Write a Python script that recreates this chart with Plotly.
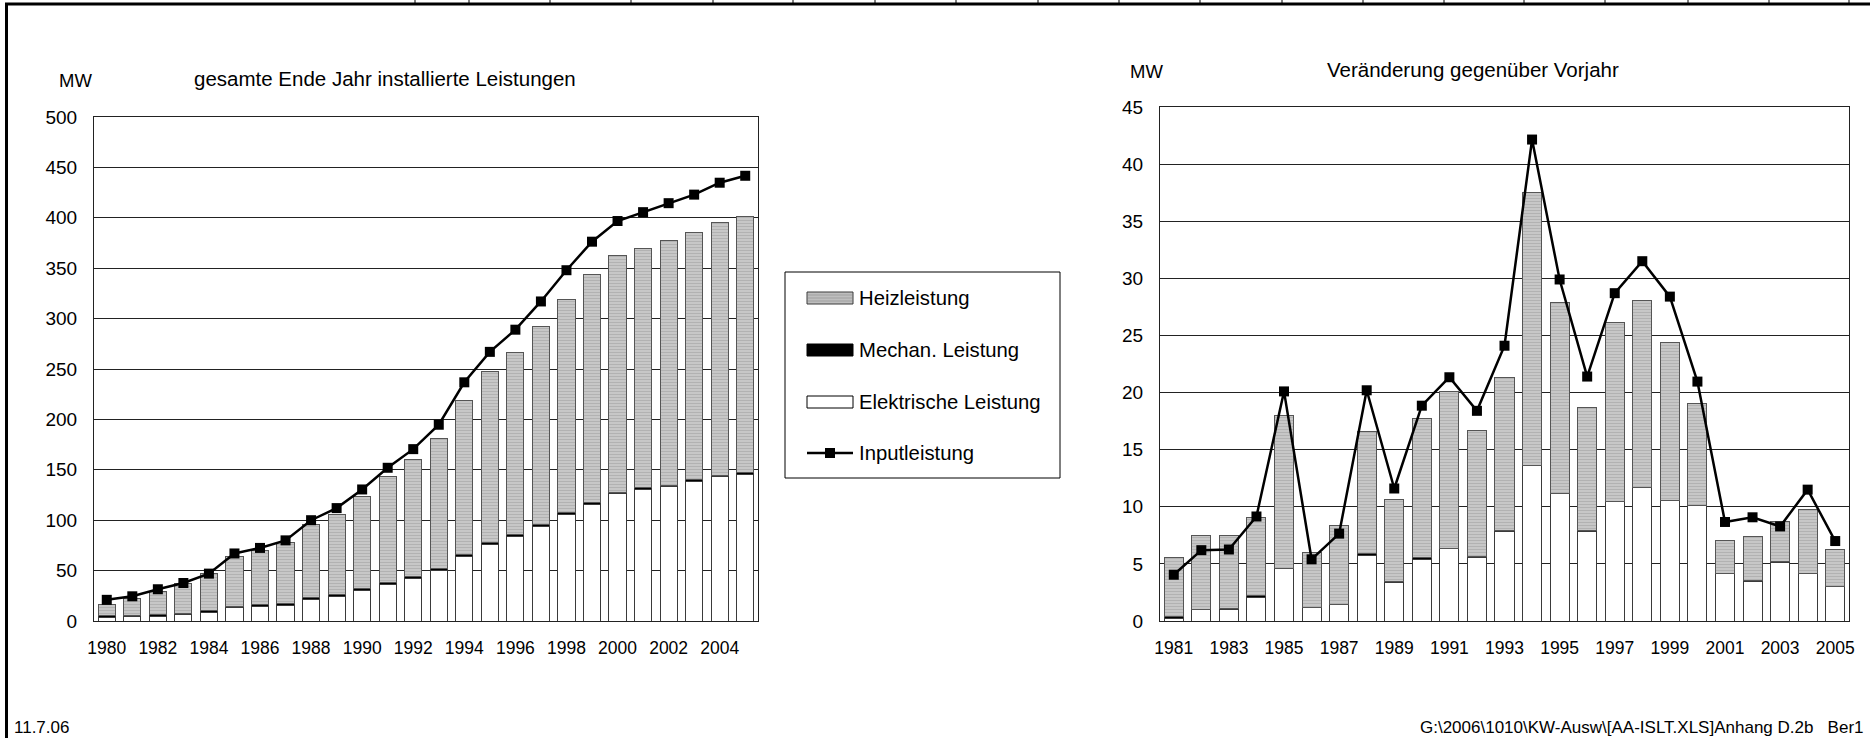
import plotly.graph_objects as go

W, H = 1870, 738

# --- cumulative installed capacity at year end (MW) ---
years_total = [str(y) for y in range(1980, 2006)]
elek_total = [3.3, 4.0, 4.6, 6.0, 8.3, 13.0, 14.6, 15.6, 21.0, 24.5, 30.5, 36.4, 42.4,
              50.3, 64.0, 75.5, 83.8, 94.0, 106.0, 116.0, 126.0, 130.5, 133.5, 138.7,
              143.0, 145.7]
mech_total = [1.8, 1.8, 1.8, 1.7, 1.8, 1.8, 1.8, 1.9, 2.0, 1.9, 2.0, 2.1, 1.9,
              2.0, 1.9, 2.0, 1.9, 1.7, 1.6, 1.8, 1.7, 1.5, 1.4, 1.6, 1.6, 1.6]
heiz_total = [11.4, 16.2, 23.1, 29.3, 36.6, 49.2, 53.6, 60.5, 72.4, 79.6, 91.5, 105.2,
              116.3, 129.2, 153.1, 170.2, 180.7, 196.3, 211.8, 225.9, 234.8, 237.4,
              242.1, 244.7, 250.4, 254.3]
input_total = [21.0, 24.5, 31.5, 37.7, 47.0, 67.0, 72.5, 80.0, 100.0, 112.0, 130.5,
               152.0, 170.5, 194.7, 236.8, 267.0, 289.0, 317.0, 348.0, 376.3, 396.8,
               405.6, 414.5, 423.0, 434.8, 441.7]
ticks_total = [str(y) for y in range(1980, 2006, 2)]

# --- change versus previous year (MW) ---
years_delta = [str(y) for y in range(1981, 2006)]
elek_delta = [0.26, 1.0, 1.05, 2.05, 4.6, 1.15, 1.43, 5.7, 3.37, 5.42, 6.32, 5.56, 7.87,
              13.6, 11.15, 7.85, 10.45, 11.68, 10.54, 10.1, 4.13, 3.48, 5.15, 4.13, 3.0]
mech_delta = [0.15, 0.05, 0.05, 0.15, 0.0, 0.05, 0.05, 0.2, 0.08, 0.18, 0.05, 0.05, 0.03,
              0.05, 0.05, 0.05, 0.05, 0.04, 0.05, 0.05, 0.05, 0.05, 0.05, 0.05, 0.05]
heiz_delta = [5.19, 6.45, 6.4, 6.85, 13.35, 4.77, 6.87, 10.67, 7.15, 12.1, 13.71, 11.04,
              13.4, 23.85, 16.7, 10.8, 15.6, 16.33, 13.81, 8.85, 2.9, 3.85, 3.55, 5.57,
              3.22]
input_delta = [4.05, 6.2, 6.26, 9.15, 20.1, 5.4, 7.65, 20.2, 11.6, 18.85, 21.34, 18.4,
               24.1, 42.15, 29.9, 21.4, 28.7, 31.5, 28.4, 20.96, 8.67, 9.08, 8.28, 11.5,
               7.0]
ticks_delta = [str(y) for y in range(1981, 2006, 2)]

FONT = "Liberation Sans, Arial, sans-serif"
NARROW = "Liberation Sans Narrow, Arial Narrow, Liberation Sans, Arial, sans-serif"


def px(x):
    return x / W


def py(y):
    return 1 - y / H


OUTLINE = dict(color="#3a3a3a", width=1)
HEIZ_OUTLINE = dict(color="#555555", width=1)
HEIZ_PATTERN = dict(shape="-", fgcolor="#9c9c9c", bgcolor="#c9c9c9", size=3, solidity=0.4)

fig = go.Figure()

panels = [
    ("x", "y", years_total, elek_total, mech_total, heiz_total, input_total, 0.67),
    ("x2", "y2", years_delta, elek_delta, mech_delta, heiz_delta, input_delta, 0.69),
]
for xa, ya, yrs, el, me, he, inp, bw in panels:
    fig.add_bar(x=yrs, y=el, xaxis=xa, yaxis=ya, width=bw, name="Elektrische Leistung",
                marker=dict(color="white", line=OUTLINE), showlegend=False)
    fig.add_bar(x=yrs, y=me, xaxis=xa, yaxis=ya, width=bw, name="Mechan. Leistung",
                marker=dict(color="black", line=OUTLINE), showlegend=False)
    fig.add_bar(x=yrs, y=he, xaxis=xa, yaxis=ya, width=bw, name="Heizleistung",
                marker=dict(color="#c9c9c9", pattern=HEIZ_PATTERN, line=HEIZ_OUTLINE),
                showlegend=False)
    fig.add_scatter(x=yrs, y=inp, xaxis=xa, yaxis=ya, mode="lines+markers",
                    name="Inputleistung", showlegend=False,
                    line=dict(color="black", width=2.5),
                    marker=dict(symbol="square", size=10, color="black"))

xcommon = dict(type="category", showline=True, mirror=True, linecolor="#222",
               linewidth=1, showgrid=False, ticks="", zeroline=False, automargin=False,
               tickfont=dict(family=FONT, size=17.5, color="black"),
               ticklabelstandoff=11)
ycommon = dict(showline=True, mirror=True, linecolor="#222", linewidth=1,
               showgrid=True, gridcolor="#222", gridwidth=1, ticks="", zeroline=False,
               automargin=False,
               tickfont=dict(family=FONT, size=19, color="black"),
               ticklabelstandoff=12)

fig.update_layout(
    width=W, height=H,
    margin=dict(l=0, r=0, t=0, b=0, autoexpand=False),
    paper_bgcolor="white", plot_bgcolor="white",
    barmode="stack",
    showlegend=False,
    xaxis=dict(xcommon, domain=[px(94), px(758)], anchor="y",
               range=[-0.5, len(years_total) - 0.5],
               tickmode="array", tickvals=ticks_total, ticktext=ticks_total),
    yaxis=dict(ycommon, domain=[py(621), py(117)], anchor="x",
               range=[0, 500], dtick=50),
    xaxis2=dict(xcommon, domain=[px(1160), px(1849)], anchor="y2",
                range=[-0.5, len(years_delta) - 0.5],
                tickmode="array", tickvals=ticks_delta, ticktext=ticks_delta),
    yaxis2=dict(ycommon, domain=[py(621), py(107)], anchor="x2",
                range=[0, 45], dtick=5),
)

shapes = []
annotations = []


def text(x, y, s, size, anchor="left", family=FONT):
    annotations.append(dict(x=px(x), y=py(y), xref="paper", yref="paper", text=s,
                            showarrow=False, xanchor=anchor, yanchor="middle",
                            font=dict(family=family, size=size, color="black")))


def rect(x0, y0, x1, y1, fill, line="black", lw=1):
    shapes.append(dict(type="rect", xref="paper", yref="paper",
                       x0=px(x0), x1=px(x1), y0=py(y0), y1=py(y1),
                       fillcolor=fill, line=dict(color=line, width=lw)))


def seg(x0, y0, x1, y1, lw=1, color="black"):
    shapes.append(dict(type="line", xref="paper", yref="paper",
                       x0=px(x0), x1=px(x1), y0=py(y0), y1=py(y1),
                       line=dict(color=color, width=lw)))


# panel headings
text(57, 80, "MW", 18.5)
text(385, 78, "gesamte Ende Jahr installierte Leistungen", 20.5, anchor="center")
text(1128, 72, "MW", 18.5)
text(1473, 70, "Veränderung gegenüber Vorjahr", 20.5, anchor="center")

# legend box
rect(785, 272, 1060, 478, "white")
rect(807, 292, 853, 304, "#bebebe", line="#3a3a3a")
for yy in (295, 298, 301):
    seg(808, yy, 852, yy, lw=1, color="#a0a0a0")
rect(807, 344, 853, 356, "black")
rect(807, 396, 853, 408, "white")
seg(807, 453, 853, 453, lw=2.5)
rect(825, 448, 835, 458, "black", lw=0)
text(857, 298, "Heizleistung", 20.3)
text(857, 350, "Mechan. Leistung", 20.3)
text(857, 402, "Elektrische Leistung", 20.3)
text(857, 453, "Inputleistung", 20.3)

# sheet frame
seg(5, 4, W, 4, lw=3)
seg(6.5, 3, 6.5, H, lw=3)
for xx in [415, 469, 550, 631, 713, 793, 875, 956, 1038, 1119, 1200, 1282, 1363,
           1444, 1524, 1605, 1688, 1769, 1849]:
    seg(xx, 0, xx, 3, lw=1)

# footer
text(12, 727, "11.7.06", 17, family=NARROW)
text(1866, 727, "G:\\2006\\1010\\KW-Ausw\\[AA-ISLT.XLS]Anhang D.2b&nbsp;&nbsp;&nbsp;Ber1",
     17, anchor="right", family=NARROW)

fig.update_layout(shapes=shapes, annotations=annotations)

fig.write_html("out.html")
